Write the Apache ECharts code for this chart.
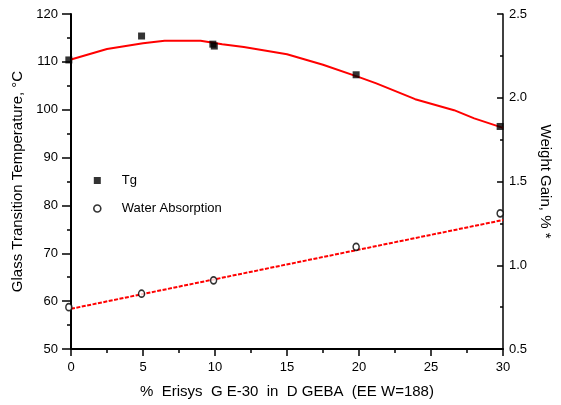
<!DOCTYPE html>
<html><head><meta charset="utf-8">
<script src="https://cdn.jsdelivr.net/npm/echarts@6/dist/echarts.min.js"></script>
<style>html,body{margin:0;padding:0;background:#fff}#c{width:561px;height:405px}</style>
</head><body><div id="c"></div>
<script>
const tgX = [-0.15, 4.9, 9.85, 9.95, 19.8, 29.8];
const tgY = [110.4, 115.4, 113.7, 113.3, 107.3, 96.5];
const waterX = [-0.15, 4.9, 9.9, 19.8, 29.8];
const waterY = [0.75, 0.83, 0.91, 1.11, 1.31];
const tgFitX = [0, 2.5, 5, 6.5, 9, 10.5, 12, 15, 17.5, 20, 21.2, 23.9, 26.6, 28, 30];
const tgFitY = [110.5, 112.7, 113.9, 114.4, 114.4, 113.7, 113.1, 111.6, 109.4, 106.8, 105.5, 102.2, 99.9, 98.2, 96.2];
const waterFitX = [0, 30];
const waterFitY = [0.74, 1.27];
const xTicks = [0, 5, 10, 15, 20, 25, 30];
const leftTicks = [50, 60, 70, 80, 90, 100, 110, 120];
const rightTicks = [0.5, 1.0, 1.5, 2.0, 2.5];

const zip = (a, b) => a.map((v, i) => [v, b[i]]);
const F = 'Liberation Sans, Arial, sans-serif';
const chart = echarts.init(document.getElementById('c'));
chart.setOption({
  animation: false,
  backgroundColor: '#fff',
  grid: { left: 71, right: 52, top: 14, bottom: 56 },
  legend: {
    data: [
      { name: 'Tg', icon: 'rect', itemStyle: { color: '#000', borderWidth: 0 } },
      { name: 'Water Absorption', icon: 'circle', itemStyle: { color: '#fff', borderColor: '#000', borderWidth: 1.6 } }
    ],
    orient: 'vertical', left: 93, top: 174,
    itemWidth: 7, itemHeight: 7, itemGap: 15, padding: 0,
    textStyle: { fontFamily: F, fontSize: 13, color: '#000', padding: [0, 0, 0, 16] }
  },
  xAxis: {
    type: 'value', min: xTicks[0], max: xTicks[xTicks.length - 1], interval: 5,
    name: '%  Erisys  G E-30  in  D GEBA  (EE W=188)', nameLocation: 'middle', nameGap: 35,
    nameTextStyle: { fontFamily: F, fontSize: 15, color: '#000' },
    axisLine: { lineStyle: { color: '#000', width: 2 } },
    axisTick: { length: 7, lineStyle: { color: '#000', width: 1.5 } },
    minorTick: { show: true, splitNumber: 2, length: 4, lineStyle: { color: '#000', width: 1.5 } },
    axisLabel: { fontFamily: F, fontSize: 13, color: '#000', margin: 12 },
    splitLine: { show: false }
  },
  yAxis: [{
    type: 'value', min: leftTicks[0], max: leftTicks[leftTicks.length - 1], interval: 10, position: 'left',
    name: 'Glass Transition Temperature, °C', nameLocation: 'middle', nameGap: 41,
    nameTextStyle: { fontFamily: F, fontSize: 15, color: '#000' },
    axisLine: { show: true, lineStyle: { color: '#000', width: 2 } },
    axisTick: { show: true, length: 9, lineStyle: { color: '#000', width: 1.5 } },
    minorTick: { show: true, splitNumber: 2, length: 4, lineStyle: { color: '#000', width: 1.5 } },
    axisLabel: { fontFamily: F, fontSize: 13, color: '#000', margin: 13 },
    splitLine: { show: false }
  }, {
    type: 'value', min: rightTicks[0], max: rightTicks[rightTicks.length - 1], interval: 0.5, position: 'right',
    name: 'Weight Gain, % *', nameLocation: 'middle', nameGap: 34, nameRotate: -90,
    nameTextStyle: { fontFamily: F, fontSize: 15, color: '#000' },
    axisLine: { show: true, lineStyle: { color: '#000', width: 1.5 } },
    axisTick: { show: true, inside: true, length: 6, lineStyle: { color: '#000', width: 1.5 } },
    minorTick: { show: true, splitNumber: 2, length: 3, lineStyle: { color: '#000', width: 1.5 } },
    axisLabel: { fontFamily: F, fontSize: 13, color: '#000', margin: 6, formatter: v => v.toFixed(1) },
    splitLine: { show: false }
  }],
  series: [
    { name: 'TgFit', type: 'line', yAxisIndex: 0, data: zip(tgFitX, tgFitY), showSymbol: false, symbol: 'none',
      lineStyle: { color: '#ff0000', width: 2 }, z: 2 },
    { name: 'WaterFit', type: 'line', yAxisIndex: 1, data: zip(waterFitX, waterFitY), showSymbol: false, symbol: 'none',
      lineStyle: { color: '#ff0000', width: 2, type: [4, 1.5] }, z: 2 },
    { name: 'Tg', type: 'scatter', yAxisIndex: 0, data: zip(tgX, tgY), symbol: 'rect', symbolSize: 7, clip: false,
      itemStyle: { color: '#000' }, z: 3 },
    { name: 'Water Absorption', type: 'scatter', yAxisIndex: 1, data: zip(waterX, waterY), symbol: 'circle', symbolSize: [6, 7], clip: false,
      itemStyle: { color: '#fff', borderColor: '#000', borderWidth: 1.6 }, z: 3 }
  ]
});
</script></body></html>
